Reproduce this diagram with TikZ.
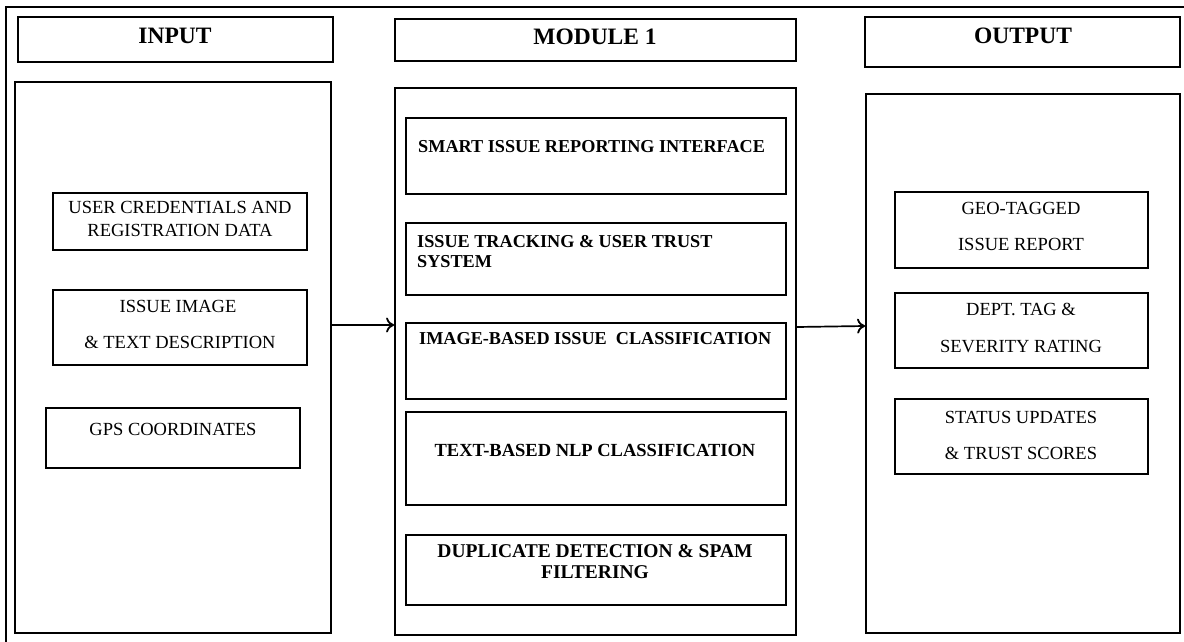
\documentclass[tikz,border=0pt]{standalone}
\usepackage{fontspec}
\setmainfont{Liberation Serif}
\usetikzlibrary{arrows.meta}
\tikzset{
  box/.style={draw=black, line width=1.8pt, rectangle, inner sep=0pt},
  frameline/.style={draw=black, line width=1.4pt},
  hdr/.style={font=\fontsize{23.5}{28}\selectfont\bfseries, inner sep=0pt, anchor=base},
  itxt/.style={font=\fontsize{18.5}{22}\selectfont, inner sep=0pt, anchor=base},
  mtxt/.style={font=\fontsize{18.2}{22}\selectfont\bfseries, inner sep=0pt, anchor=base west},
  mtxtc/.style={font=\fontsize{18.5}{22}\selectfont\bfseries, inner sep=0pt, anchor=base},
  arr/.style={line width=1.7pt, -{To[length=8pt,width=15pt,line width=1.8pt]}},
}
\newcommand{\bx}[5]{\node[box, minimum width=#3-#2, minimum height=#5-#4] (#1) at ({(#2+#3)/2},{(#4+#5)/2}) {};}
\begin{document}
\begin{tikzpicture}[x=1pt,y=-1pt]
\useasboundingbox (0,0) rectangle (1184,642);
% outer frame (cut at right and bottom)
\coordinate (fbl) at (6,650);
\coordinate (ftl) at (6,7);
\coordinate (ftr) at (1190,7);
\draw[frameline] (fbl) -- (ftl) -- (ftr);

% headers
\bx{hin}{18}{333}{17}{62}
\bx{hmod}{395}{796}{19}{61}
\bx{hout}{865}{1180}{17}{67}
\node[hdr] (thin) at (175,44) {INPUT};
\node[hdr] (thmod) at (595,45) {MODULE 1};
\node[hdr] (thout) at (1023,44) {OUTPUT};

% big boxes
\bx{bin}{15}{331}{82}{633}
\bx{bmod}{395}{796}{88}{635}
\bx{bout}{866}{1180}{94}{633}

% input items
\bx{i1}{53}{307}{193}{250}
\bx{i2}{53}{307}{290}{365}
\bx{i3}{46}{300}{408}{468}
\node[itxt] (ti1a) at (180,213) {USER CREDENTIALS AND};
\node[itxt] (ti1b) at (180,236) {REGISTRATION DATA};
\node[itxt] (ti2a) at (178,312) {ISSUE IMAGE};
\node[itxt] (ti2b) at (180,348) {\& TEXT DESCRIPTION};
\node[itxt] (ti3) at (173,435) {GPS COORDINATES};

% module items
\bx{m1}{406}{786}{118}{194}
\bx{m2}{406}{786}{223}{295}
\bx{m3}{406}{786}{323}{399}
\bx{m4}{406}{786}{412}{505}
\bx{m5}{406}{786}{535}{605}
\node[mtxt] (tm1) at (418,152) {SMART ISSUE REPORTING INTERFACE};
\node[mtxt] (tm2a) at (417,247) {ISSUE TRACKING \& USER TRUST};
\node[mtxt] (tm2b) at (417,267) {SYSTEM};
\node[mtxt] (tm3) at (419,344) {IMAGE-BASED ISSUE \ CLASSIFICATION};
\node[mtxtc] (tm4) at (595,456) {TEXT-BASED NLP CLASSIFICATION};
\node[mtxtc,font=\fontsize{19.5}{22}\selectfont\bfseries] (tm5a) at (595,557) {DUPLICATE DETECTION \& SPAM};
\node[mtxtc,font=\fontsize{19.5}{22}\selectfont\bfseries] (tm5b) at (595,578) {FILTERING};

% output items
\bx{o1}{895}{1148}{192}{268}
\bx{o2}{895}{1148}{293}{368}
\bx{o3}{895}{1148}{399}{474}
\node[itxt] (to1a) at (1021,214) {GEO-TAGGED};
\node[itxt] (to1b) at (1021,250) {ISSUE REPORT};
\node[itxt] (to2a) at (1021,315) {DEPT. TAG \&};
\node[itxt] (to2b) at (1021,352) {SEVERITY RATING};
\node[itxt] (to3a) at (1021,423) {STATUS UPDATES};
\node[itxt] (to3b) at (1021,459) {\& TRUST SCORES};

% connectors
\draw[arr] (bin.east |- 0,325) -- (bmod.west |- 0,325);
\draw[arr] (bmod.east |- 0,327) -- (bout.west |- 0,326);
\end{tikzpicture}
\end{document}
